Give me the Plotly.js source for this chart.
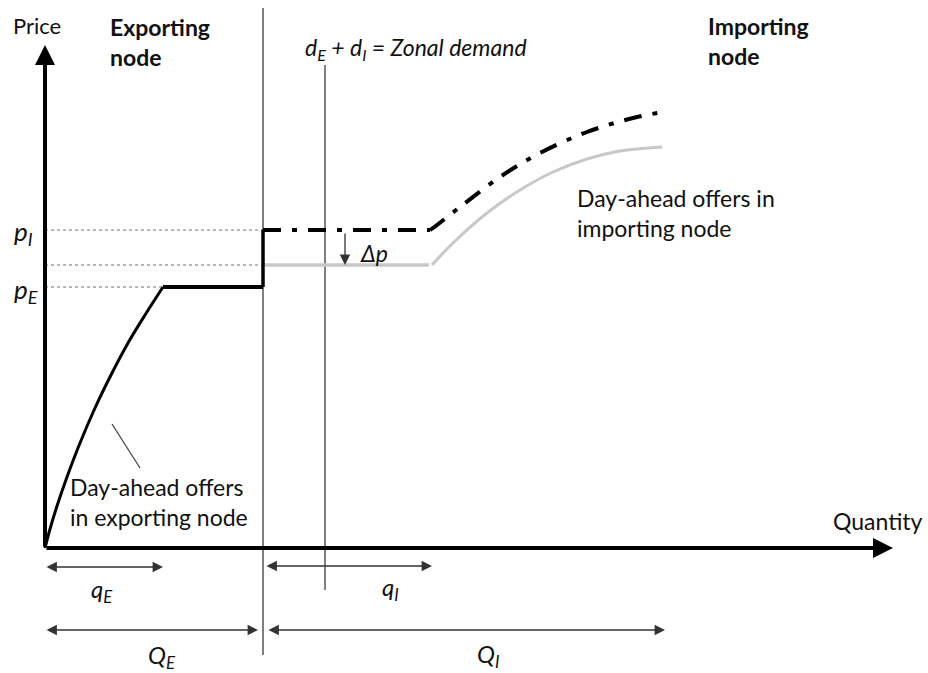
<!DOCTYPE html>
<html>
<head>
<meta charset="utf-8">
<script src="https://cdn.plot.ly/plotly-3.0.1.min.js"></script>
<style>html,body{margin:0;padding:0;background:#fff;}#chart{width:928px;height:673px;}</style>
</head>
<body>
<div id="chart"></div>
<script>
// ---- Data (quantity / price in diagram units) ----
const expCurveQ = [0, 5, 12, 22, 35, 50, 66, 83, 100, 118];
const expCurveP = [0, 19, 42, 71, 105, 140, 173, 205, 233, 261];
const expFlatQ = [118, 218];
const expFlatP = [261, 261];
const jumpQ = [218, 218, 385];
const jumpP = [261, 318, 318];
const impHighQ = [385, 388, 415, 455, 495, 542, 588, 618];
const impHighP = [318, 320, 341, 371, 395, 416, 430, 436];
const impLowFlatQ = [218, 384];
const impLowFlatP = [283, 283];
const impLowQ = [387, 408, 442, 475, 508, 542, 575, 617];
const impLowP = [283, 305, 335, 358, 376, 389, 397, 401];

const dottedLevels = [318, 283, 261];
const dottedEnds = [218, 218, 118];

const borderLineQ = [218, 218];
const borderLineP = [540, -107];
const demandLineQ = [280, 280];
const demandLineP = [483, -42];
const pointerQ = [67, 95];
const pointerP = [124, 80];

// axes arrows [tailQ, tailP, tipQ, tipP]
const axisArrows = [[0, 0, 0, 503], [0, 0, 848, 0]];
// dimension arrows [fromQ, toQ, atP]
const dimArrows = [[0, 118, -19], [220, 387, -18], [0, 213, -82], [222, 620, -82]];
const deltaArrow = [300, 316, 283];

// labels
const labels = [
  {t: 'Price', q: -8, p: 523, xa: 'center', size: 22},
  {t: '<b>Exporting<br>node</b>', q: 63, p: 506, xa: 'left', size: 23},
  {t: '<b>Importing<br>node</b>', q: 661, p: 507, xa: 'left', size: 23},
  {t: '<i>d<sub>E</sub> + d<sub>I</sub> = Zonal demand</i>', q: 258, p: 500, xa: 'left', size: 23},
  {t: 'Day-ahead offers in<br>importing node', q: 530, p: 335, xa: 'left', size: 23},
  {t: 'Day-ahead offers<br>in exporting node', q: 23, p: 46, xa: 'left', size: 23},
  {t: 'Quantity', q: 880, p: 27, xa: 'right', size: 23},
  {t: '<i>p<sub>I</sub></i>', q: -33, p: 316, xa: 'left', size: 26},
  {t: '<i>p<sub>E</sub></i>', q: -33, p: 258, xa: 'left', size: 26},
  {t: '<i>q<sub>E</sub></i>', q: 57, p: -42, xa: 'center', size: 24},
  {t: '<i>q<sub>I</sub></i>', q: 345, p: -40, xa: 'center', size: 24},
  {t: '<i>Q<sub>E</sub></i>', q: 117, p: -108, xa: 'center', size: 24},
  {t: '<i>Q<sub>I</sub></i>', q: 443, p: -107, xa: 'center', size: 24},
  {t: '<i>Δp</i>', q: 313, p: 295, xa: 'left', size: 23}
];

const FONT = 'Lato, "Open Sans", sans-serif';
const DASHDOT = '18px,11px,5px,11px';
const traces = [];
function line(x, y, color, width, dash, shape) {
  traces.push({x: x, y: y, mode: 'lines', type: 'scatter', hoverinfo: 'skip',
    line: {color: color, width: width, dash: dash || 'solid', shape: shape || 'linear', smoothing: 1}});
}
dottedLevels.forEach((lv, i) => line([0, dottedEnds[i]], [lv, lv], '#a0a0a0', 1.5, 'dot'));
line(borderLineQ, borderLineP, '#555555', 1.5);
line(demandLineQ, demandLineP, '#555555', 1.5);
line(pointerQ, pointerP, '#444444', 1.3);
line(impLowFlatQ, impLowFlatP, '#c8c8c8', 3.5);
line(impLowQ, impLowP, '#c8c8c8', 3, 'solid', 'spline');
line(expCurveQ, expCurveP, '#000000', 3, 'solid', 'spline');
line(expFlatQ, expFlatP, '#000000', 4);
line(jumpQ.slice(0, 2), jumpP.slice(0, 2), '#000000', 3.5);
line(jumpQ.slice(1), jumpP.slice(1), '#000000', 4, DASHDOT);
line(impHighQ, impHighP, '#000000', 4, DASHDOT, 'spline');

const annotations = [];
axisArrows.forEach(a => annotations.push({x: a[2], y: a[3], ax: a[0], ay: a[1], axref: 'x', ayref: 'y',
  xref: 'x', yref: 'y', text: '', showarrow: true, arrowhead: 2, arrowsize: 1, arrowwidth: 4, arrowcolor: '#000'}));
dimArrows.forEach(d => annotations.push({x: d[1], y: d[2], ax: d[0], ay: d[2], axref: 'x', ayref: 'y',
  xref: 'x', yref: 'y', text: '', showarrow: true, arrowhead: 2, startarrowhead: 2, arrowside: 'end+start',
  arrowsize: 1.6, startarrowsize: 1.6, arrowwidth: 1.3, arrowcolor: '#333'}));
annotations.push({x: deltaArrow[0], y: deltaArrow[2], ax: deltaArrow[0], ay: deltaArrow[1], axref: 'x', ayref: 'y',
  xref: 'x', yref: 'y', text: '', showarrow: true, arrowhead: 2, arrowsize: 1.6, arrowwidth: 1.3, arrowcolor: '#333'});
labels.forEach(l => annotations.push({x: l.q, y: l.p, xref: 'x', yref: 'y', text: l.t, showarrow: false,
  xanchor: l.xa, yanchor: 'middle', align: 'left', font: {family: FONT, size: l.size, color: '#111'}}));

const layout = {
  width: 928, height: 673, margin: {l: 0, r: 0, t: 0, b: 0},
  paper_bgcolor: '#fff', plot_bgcolor: '#fff', showlegend: false,
  xaxis: {range: [-45, 883], visible: false, fixedrange: true},
  yaxis: {range: [-125, 548], visible: false, fixedrange: true},
  annotations: annotations
};
Plotly.newPlot('chart', traces, layout, {staticPlot: true});
</script>
</body>
</html>
